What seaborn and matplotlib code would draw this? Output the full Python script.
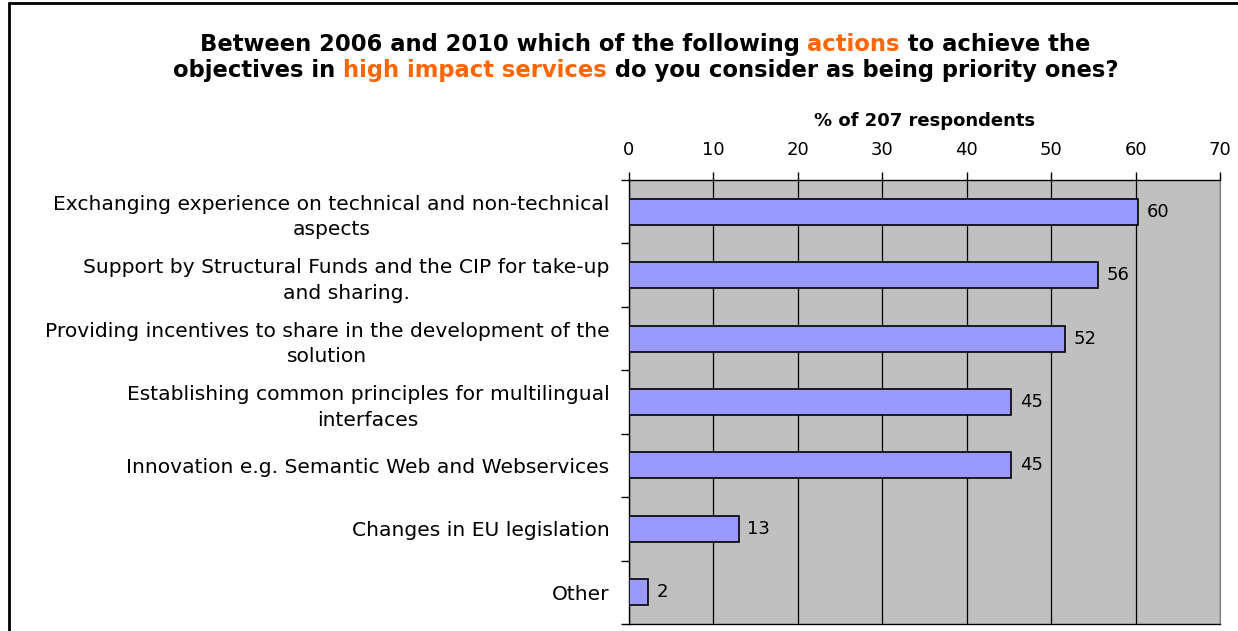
import matplotlib
matplotlib.use("Agg")
import matplotlib.pyplot as plt
import seaborn as sns
import pandas as pd
from matplotlib.lines import Line2D

categories = [
    "Exchanging experience on technical and non-technical\naspects",
    "Support by Structural Funds and the CIP for take-up\nand sharing.",
    "Providing incentives to share in the development of the\nsolution",
    "Establishing common principles for multilingual\ninterfaces",
    "Innovation e.g. Semantic Web and Webservices",
    "Changes in EU legislation",
    "Other",
]
values = [60.3, 55.6, 51.7, 45.3, 45.3, 13.0, 2.3]
value_labels = ["60", "56", "52", "45", "45", "13", "2"]
x_ticks = [0, 10, 20, 30, 40, 50, 60, 70]
x_label = "% of 207 respondents"
title_line1 = [("Between 2006 and 2010 which of the following ", "black"),
               ("actions", "#FF6600"),
               (" to achieve the", "black")]
title_line2 = [("objectives in ", "black"),
               ("high impact services", "#FF6600"),
               (" do you consider as being priority ones?", "black")]

sns.set_style("white")
plt.rcParams["font.family"] = ["DejaVu Sans"]
for k in ["text.color", "axes.labelcolor", "xtick.color", "ytick.color"]:
    plt.rcParams[k] = "black"

W, H, DPI = 1238, 631, 100
fig = plt.figure(figsize=(W / DPI, H / DPI), dpi=DPI)
ax = fig.add_axes([629 / W, 1 - 624 / H, (1220 - 629) / W, (624 - 180) / H])
ax.set_facecolor("#C0C0C0")

df = pd.DataFrame({"category": categories, "value": values})
sns.barplot(data=df, x="value", y="category", orient="h", color="#9999FF",
            saturation=1, edgecolor="black", linewidth=1.2, width=0.41, ax=ax,
            zorder=3)

for i, (v, lab) in enumerate(zip(values, value_labels)):
    ax.annotate(lab, xy=(v, i), xytext=(6, 0), textcoords="offset points",
                va="center", ha="left", fontsize=13, color="black")

ax.set_xlim(0, 70)
ax.set_ylim(len(categories) - 0.5, -0.5)
ax.set_xticks(x_ticks)
ax.xaxis.tick_top()
ax.xaxis.set_label_position("top")
ax.set_xlabel(x_label, fontsize=13, fontweight="bold", labelpad=11)
ax.set_ylabel("")
ax.tick_params(axis="x", which="major", direction="out", length=6, width=1,
               color="black", labelsize=13, pad=9, top=True, bottom=False)
ax.set_yticks(range(len(categories)))
ax.set_yticks([i - 0.5 for i in range(len(categories) + 1)], minor=True)
ax.tick_params(axis="y", which="major", length=0, labelsize=14.6, pad=14)
ax.tick_params(axis="y", which="minor", length=6, width=1, color="black", left=True)
for t in ax.get_yticklabels():
    t.set_multialignment("center")
    t.set_linespacing(1.45)

ax.grid(axis="x", color="black", linewidth=0.9, zorder=1)
ax.set_axisbelow(True)
for s in ["top", "left", "bottom"]:
    ax.spines[s].set_color("black")
    ax.spines[s].set_linewidth(1)
ax.spines["right"].set_color("#808080")

# figure frame (top and left)
fig.add_artist(Line2D([9 / W, 1.0], [1 - 3 / H, 1 - 3 / H], color="black",
                      linewidth=2, transform=fig.transFigure))
fig.add_artist(Line2D([9 / W, 9 / W], [0, 1 - 3 / H], color="black",
                      linewidth=2, transform=fig.transFigure))

# multi-coloured title
r = fig.canvas.get_renderer()
fs = 16.3


def text_width(s):
    t = fig.text(0, 0, s, fontsize=fs, fontweight="bold")
    w = t.get_window_extent(r).width
    t.remove()
    return w


bar_w = text_width("|")


def draw_line(segments, cx, baseline_y):
    full = "".join(s for s, _ in segments)
    total = text_width(full + "|") - bar_w
    x0 = cx - total / 2
    prefix = ""
    for s, c in segments:
        off = (text_width(prefix + "|") - bar_w) if prefix else 0
        fig.text((x0 + off) / W, 1 - baseline_y / H, s, fontsize=fs,
                 fontweight="bold", color=c, ha="left", va="baseline")
        prefix += s


draw_line(title_line1, 645, 51)
draw_line(title_line2, 646, 77)

fig.savefig("out.png", dpi=DPI)
